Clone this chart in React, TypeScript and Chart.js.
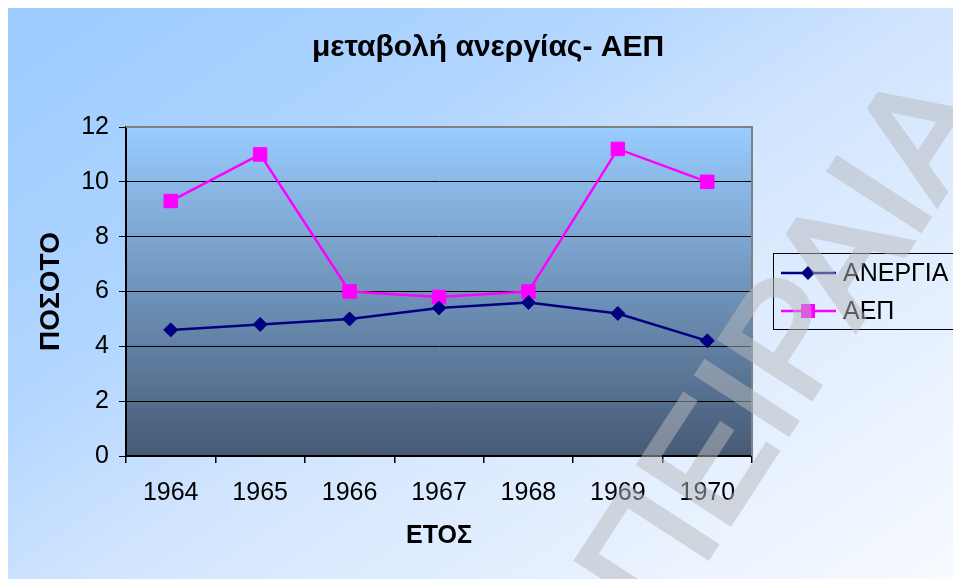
import { useEffect, useRef } from 'react';
import { Chart, registerables } from 'chart.js';

Chart.register(...registerables);

const years = ['1964', '1965', '1966', '1967', '1968', '1969', '1970'];
const unemployment = [4.6, 4.8, 5.0, 5.4, 5.6, 5.2, 4.2];
const gdp = [9.3, 11.0, 6.0, 5.8, 6.0, 11.2, 10.0];
const seriesNames = ['ΑΝΕΡΓΙΑ', 'ΑΕΠ'];
const seriesColors = ['#000080', '#FF00FF'];
const yMin = 0;
const yMax = 12;
const yStep = 2;
const titleText = 'μεταβολή ανεργίας- ΑΕΠ';
const xTitleText = 'ΕΤΟΣ';
const yTitleText = 'ΠΟΣΟΤΟ';
const watermarkText = 'ΠΕΙΡΑΙΑ';

const FAMILY = '"Liberation Sans", Arial, sans-serif';
const W = 953;
const H = 571;

const backgroundPlugin = {
  id: 'bgPlugin',
  beforeDraw(chart: any) {
    const { ctx, chartArea: ca } = chart;
    ctx.save();
    const g = ctx.createLinearGradient(0, 0, 585, 879);
    g.addColorStop(0, 'rgb(156,203,255)');
    g.addColorStop(0.3, 'rgb(176,213,255)');
    g.addColorStop(0.5, 'rgb(210,229,254)');
    g.addColorStop(1, 'rgb(252,253,255)');
    ctx.fillStyle = g;
    ctx.fillRect(0, 0, W, H);
    const pg = ctx.createLinearGradient(0, ca.top, 0, ca.bottom);
    pg.addColorStop(0, 'rgb(153,204,255)');
    pg.addColorStop(1, 'rgb(70,90,117)');
    ctx.fillStyle = pg;
    ctx.fillRect(ca.left, ca.top, ca.right - ca.left, ca.bottom - ca.top);
    ctx.restore();
  },
  afterDraw(chart: any) {
    const { ctx, chartArea: ca } = chart;
    ctx.save();
    // plot border top/right
    ctx.strokeStyle = '#808080';
    ctx.lineWidth = 2;
    ctx.beginPath();
    ctx.moveTo(ca.left, ca.top);
    ctx.lineTo(ca.right, ca.top);
    ctx.lineTo(ca.right, ca.bottom);
    ctx.stroke();

    // title
    ctx.fillStyle = '#000';
    ctx.font = `bold 30px ${FAMILY}`;
    ctx.textAlign = 'center';
    ctx.textBaseline = 'middle';
    ctx.fillText(titleText, 480, 40);

    // legend
    const bx = 765.5, by = 245.5, bw = 186, bh = 76;
    ctx.strokeStyle = '#000';
    ctx.lineWidth = 1;
    ctx.strokeRect(bx, by, bw, bh);
    const rows = [265, 303];
    ctx.font = `25px ${FAMILY}`;
    ctx.textBaseline = 'middle';
    ctx.textAlign = 'left';
    seriesNames.forEach((name, i) => {
      const y = rows[i];
      ctx.strokeStyle = seriesColors[i];
      ctx.lineWidth = 2.5;
      ctx.beginPath();
      ctx.moveTo(773, y);
      ctx.lineTo(828, y);
      ctx.stroke();
      ctx.fillStyle = seriesColors[i];
      if (i === 0) {
        const r = 7;
        ctx.beginPath();
        ctx.moveTo(800, y - r);
        ctx.lineTo(800 + r, y);
        ctx.lineTo(800, y + r);
        ctx.lineTo(800 - r, y);
        ctx.closePath();
        ctx.fill();
      } else {
        ctx.fillRect(793, y - 7, 14, 14);
      }
      ctx.fillStyle = '#000';
      ctx.fillText(name, 835, y + 1);
    });
    ctx.restore();

    // watermark (drawn opaque offscreen, then composited translucent)
    const off = document.createElement('canvas');
    off.width = W;
    off.height = H;
    const o = off.getContext('2d') as CanvasRenderingContext2D;
    o.translate(653, 622);
    o.rotate((-57 * Math.PI) / 180);
    o.font = `158px ${FAMILY}`;
    o.fillStyle = 'rgb(184,186,190)';
    o.strokeStyle = 'rgb(184,186,190)';
    o.lineWidth = 5;
    o.lineJoin = 'miter';
    o.textBaseline = 'alphabetic';
    o.fillText(watermarkText, 0, 0);
    o.strokeText(watermarkText, 0, 0);
    ctx.save();
    ctx.globalAlpha = 0.5;
    ctx.drawImage(off, 0, 0);
    ctx.restore();
  },
};

export default function App() {
  const ref = useRef<HTMLCanvasElement>(null);
  useEffect(() => {
    document.documentElement.style.overflow = 'hidden';
    const chart = new Chart(ref.current as HTMLCanvasElement, {
      type: 'line',
      data: {
        labels: years,
        datasets: [
          {
            label: seriesNames[0],
            data: unemployment,
            borderColor: seriesColors[0],
            backgroundColor: seriesColors[0],
            borderWidth: 2.5,
            pointStyle: 'rectRot',
            pointRadius: 7,
            pointBorderWidth: 1,
            pointBackgroundColor: seriesColors[0],
            pointBorderColor: seriesColors[0],
            tension: 0,
          },
          {
            label: seriesNames[1],
            data: gdp,
            borderColor: seriesColors[1],
            backgroundColor: seriesColors[1],
            borderWidth: 2.5,
            pointStyle: 'rect',
            pointRadius: 9.5,
            pointBorderWidth: 1,
            pointBackgroundColor: seriesColors[1],
            pointBorderColor: seriesColors[1],
            tension: 0,
          },
        ],
      },
      options: {
        animation: false,
        responsive: false,
        devicePixelRatio: 1,
        layout: { padding: { top: 119, left: 0, right: 209, bottom: 0 } },
        plugins: {
          legend: { display: false },
          tooltip: { enabled: false },
          title: { display: false },
        },
        scales: {
          x: {
            type: 'category',
            offset: true,
            afterFit: (s: any) => {
              s.height = 123;
            },
            grid: {
              offset: true,
              drawOnChartArea: false,
              drawTicks: true,
              tickLength: 7,
              tickColor: '#000',
              color: '#000',
              lineWidth: 1.5,
            },
            border: { color: '#000', width: 2 },
            ticks: {
              color: '#000',
              font: { family: FAMILY, size: 25 },
              padding: 15,
              maxRotation: 0,
              autoSkip: false,
            },
            title: {
              display: true,
              text: xTitleText,
              color: '#000',
              font: { family: FAMILY, size: 25, weight: 'bold' },
              padding: { top: 0, bottom: 28 },
            },
          },
          y: {
            min: yMin,
            max: yMax,
            afterFit: (s: any) => {
              s.width = 118;
            },
            grid: {
              color: '#000',
              lineWidth: 1,
              drawTicks: true,
              tickLength: 7,
              tickColor: '#000',
            },
            border: { color: '#000', width: 2 },
            ticks: {
              stepSize: yStep,
              color: '#000',
              font: { family: FAMILY, size: 25 },
              padding: 10,
            },
            title: {
              display: true,
              text: yTitleText,
              color: '#000',
              font: { family: FAMILY, size: 28, weight: 'bold' },
              padding: { top: 26, bottom: 0 },
            },
          },
        },
      },
      plugins: [backgroundPlugin],
    } as any);
    return () => chart.destroy();
  }, []);
  return (
    <div style={{ width: W, height: H }}>
      <canvas ref={ref} width={W} height={H} style={{ display: 'block' }} />
    </div>
  );
}
